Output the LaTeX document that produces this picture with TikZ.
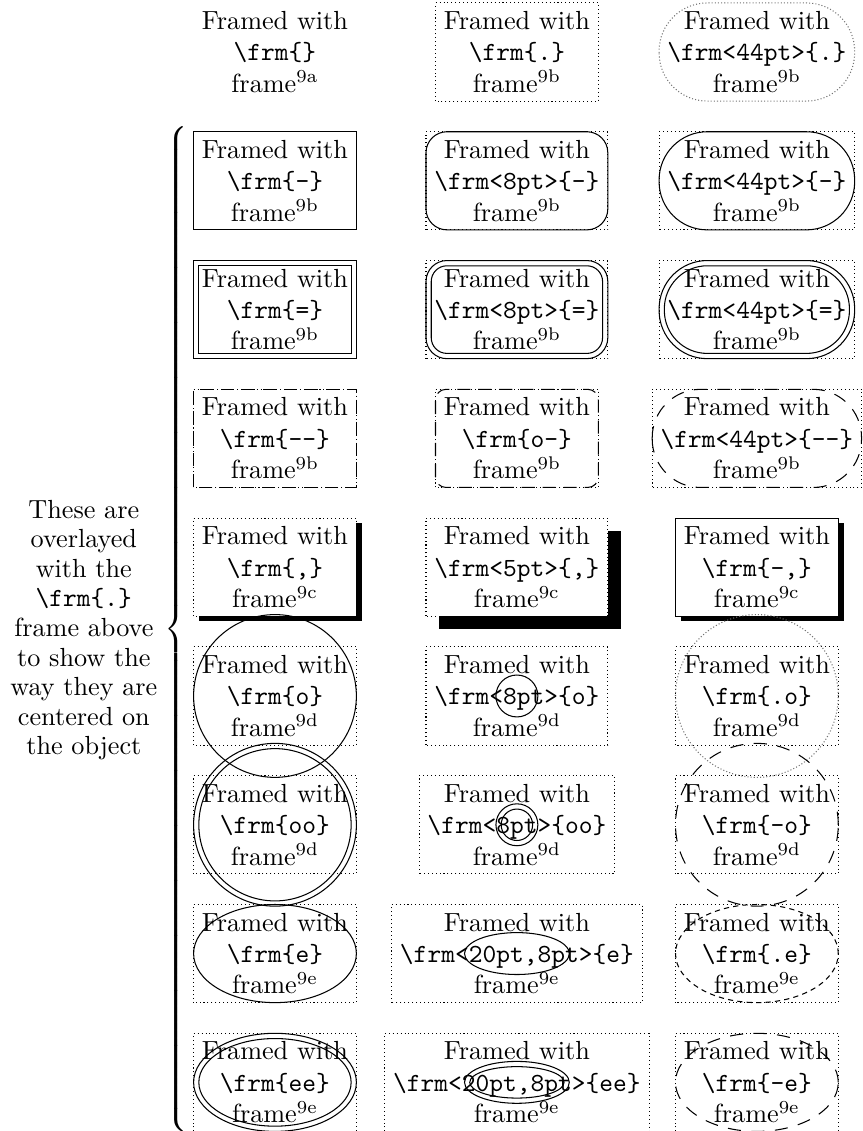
\documentclass[tikz,border=0pt]{standalone}
\usetikzlibrary{calc}
\newcommand\fcell[2]{Framed with\\\texttt{\textbackslash frm#1}\\frame$^{\mathrm{#2}}$}
\tikzset{
  obj/.style={inner sep=3pt, align=center, font=\fontsize{10}{12}\selectfont},
  dotbox/.style={line width=0.4pt, dash pattern=on 0.4pt off 1.1pt},
  fine/.style={line width=0.4pt},
  dashline/.style={line width=0.4pt, dash pattern=on 5pt off 3pt},
  dashcurve/.style={line width=0.4pt, dash pattern=on 5pt off 4pt},
  shortdash/.style={line width=0.4pt, dash pattern=on 2pt off 1.6pt},
  graydot/.style={black!55, line width=0.4pt, dash pattern=on 0.4pt off 0.8pt},
}
\begin{document}
\begin{tikzpicture}[x=1pt,y=1pt]
\useasboundingbox (0,0) rectangle (329.4,-431.7);
% column and row positions
\def\ca{104.96}\def\cb{197.3}\def\cc{288.9}
% row 0
\node[obj] (a0) at (\ca,-19.85) {\fcell{\{\}}{9a}};
\node[obj] (b0) at (\cb,-19.85) {\fcell{\{.\}}{9b}};
\draw[dotbox] (b0.south west) rectangle (b0.north east);
\node[obj] (c0) at (\cc,-19.85) {\fcell{<44pt>\{.\}}{9b}};
\draw[graydot, rounded corners=18.4pt] (c0.south west) rectangle (c0.north east);
% row 1
\node[obj] (a1) at (\ca,-69.01) {\fcell{\{-\}}{9b}};
\node[obj] (b1) at (\cb,-69.01) {\fcell{<8pt>\{-\}}{9b}};
\node[obj] (c1) at (\cc,-69.01) {\fcell{<44pt>\{-\}}{9b}};
\foreach \n in {a1,b1,c1} \draw[dotbox] (\n.south west) rectangle (\n.north east);
\draw[fine] (a1.south west) rectangle (a1.north east);
\draw[fine, rounded corners=8pt] (b1.south west) rectangle (b1.north east);
\draw[fine, rounded corners=18.4pt] (c1.south west) rectangle (c1.north east);
% row 2
\node[obj] (a2) at (\ca,-118.17) {\fcell{\{=\}}{9b}};
\node[obj] (b2) at (\cb,-118.17) {\fcell{<8pt>\{=\}}{9b}};
\node[obj] (c2) at (\cc,-118.17) {\fcell{<44pt>\{=\}}{9b}};
\foreach \n in {a2,b2,c2} \draw[dotbox] (\n.south west) rectangle (\n.north east);
\draw[fine] (a2.south west) rectangle (a2.north east);
\draw[fine] ([shift={(2pt,2pt)}]a2.south west) rectangle ([shift={(-2pt,-2pt)}]a2.north east);
\draw[fine, rounded corners=8pt] (b2.south west) rectangle (b2.north east);
\draw[fine, rounded corners=6pt] ([shift={(2pt,2pt)}]b2.south west) rectangle ([shift={(-2pt,-2pt)}]b2.north east);
\draw[fine, rounded corners=18.4pt] (c2.south west) rectangle (c2.north east);
\draw[fine, rounded corners=16.4pt] ([shift={(2pt,2pt)}]c2.south west) rectangle ([shift={(-2pt,-2pt)}]c2.north east);
% row 3
\node[obj] (a3) at (\ca,-167.33) {\fcell{\{-{}-\}}{9b}};
\node[obj] (b3) at (\cb,-167.33) {\fcell{\{o-\}}{9b}};
\node[obj] (c3) at (\cc,-167.33) {\fcell{<44pt>\{-{}-\}}{9b}};
\foreach \n in {a3,b3,c3} \draw[dotbox] (\n.south west) rectangle (\n.north east);
\draw[dashline] (a3.south west) rectangle (a3.north east);
\draw[dashline, rounded corners=4pt] (b3.south west) rectangle (b3.north east);
\draw[dashcurve, rounded corners=18.4pt] (c3.south west) rectangle (c3.north east);
% row 4
\node[obj] (a4) at (\ca,-216.49) {\fcell{\{,\}}{9c}};
\node[obj] (b4) at (\cb,-216.49) {\fcell{<5pt>\{,\}}{9c}};
\node[obj] (c4) at (\cc,-216.49) {\fcell{\{-,\}}{9c}};
\foreach \n in {a4,b4,c4} \draw[dotbox] (\n.south west) rectangle (\n.north east);
\fill ([yshift=-2pt]a4.north east) rectangle ([shift={(2pt,-2pt)}]a4.south east);
\fill ([xshift=2pt]a4.south west) rectangle ([shift={(2pt,-2pt)}]a4.south east);
\fill ([yshift=-5pt]b4.north east) rectangle ([shift={(5pt,-5pt)}]b4.south east);
\fill ([xshift=5pt]b4.south west) rectangle ([shift={(5pt,-5pt)}]b4.south east);
\draw[fine] (c4.south west) rectangle (c4.north east);
\fill ([yshift=-2pt]c4.north east) rectangle ([shift={(2pt,-2pt)}]c4.south east);
\fill ([xshift=2pt]c4.south west) rectangle ([shift={(2pt,-2pt)}]c4.south east);
% row 5
\node[obj] (a5) at (\ca,-265.65) {\fcell{\{o\}}{9d}};
\node[obj] (b5) at (\cb,-265.65) {\fcell{<8pt>\{o\}}{9d}};
\node[obj] (c5) at (\cc,-265.65) {\fcell{\{.o\}}{9d}};
\foreach \n in {a5,b5,c5} \draw[dotbox] (\n.south west) rectangle (\n.north east);
\draw[fine] let \p1=($(a5.east)-(a5.west)$) in (a5.center) circle [radius=0.5*\x1];
\draw[fine] (b5.center) circle [radius=8pt];
\draw[graydot] let \p1=($(c5.east)-(c5.west)$) in (c5.center) circle [radius=0.5*\x1];
% row 6
\node[obj] (a6) at (\ca,-314.81) {\fcell{\{oo\}}{9d}};
\node[obj] (b6) at (\cb,-314.81) {\fcell{<8pt>\{oo\}}{9d}};
\node[obj] (c6) at (\cc,-314.81) {\fcell{\{-o\}}{9d}};
\foreach \n in {a6,b6,c6} \draw[dotbox] (\n.south west) rectangle (\n.north east);
\draw[fine] let \p1=($(a6.east)-(a6.west)$) in (a6.center) circle [radius=0.5*\x1];
\draw[fine] let \p1=($(a6.east)-(a6.west)$) in (a6.center) circle [radius=0.5*\x1-2pt];
\draw[fine] (b6.center) circle [radius=8pt];
\draw[fine] (b6.center) circle [radius=6pt];
\draw[dashcurve] let \p1=($(c6.east)-(c6.west)$) in (c6.center) circle [radius=0.5*\x1];
% row 7
\node[obj] (a7) at (\ca,-363.97) {\fcell{\{e\}}{9e}};
\node[obj] (b7) at (\cb,-363.97) {\fcell{<20pt,8pt>\{e\}}{9e}};
\node[obj] (c7) at (\cc,-363.97) {\fcell{\{.e\}}{9e}};
\foreach \n in {a7,b7,c7} \draw[dotbox] (\n.south west) rectangle (\n.north east);
\draw[fine] let \p1=($(a7.north east)-(a7.center)$) in (a7.center) ellipse [x radius=\x1, y radius=\y1];
\draw[fine] (b7.center) ellipse [x radius=20pt, y radius=8pt];
\draw[shortdash] let \p1=($(c7.north east)-(c7.center)$) in (c7.center) ellipse [x radius=\x1, y radius=\y1];
% row 8
\node[obj] (a8) at (\ca,-413.13) {\fcell{\{ee\}}{9e}};
\node[obj] (b8) at (\cb,-413.13) {\fcell{<20pt,8pt>\{ee\}}{9e}};
\node[obj] (c8) at (\cc,-413.13) {\fcell{\{-e\}}{9e}};
\foreach \n in {a8,b8,c8} \draw[dotbox] (\n.south west) rectangle (\n.north east);
\draw[fine] let \p1=($(a8.north east)-(a8.center)$) in (a8.center) ellipse [x radius=\x1, y radius=\y1];
\draw[fine] let \p1=($(a8.north east)-(a8.center)$) in (a8.center) ellipse [x radius=\x1-2pt, y radius=\y1-2pt];
\draw[fine] (b8.center) ellipse [x radius=20pt, y radius=8pt];
\draw[fine] (b8.center) ellipse [x radius=18pt, y radius=6pt];
\draw[dashcurve] let \p1=($(c8.north east)-(c8.center)$) in (c8.center) ellipse [x radius=\x1, y radius=\y1];
% left note and brace
\node[align=center, inner sep=0pt, font=\fontsize{10}{11.3}\selectfont] (note) at (32,-240.5)
  {These are\\overlayed\\with the\\\texttt{\textbackslash frm\{.\}}\\frame above\\to show the\\way they are\\centered on\\the object};
\node[inner sep=0pt] (brace) at (68,-240.5) {$\left\{\vrule height 190pt depth 190pt width 0pt\right.$};
\end{tikzpicture}
\end{document}
